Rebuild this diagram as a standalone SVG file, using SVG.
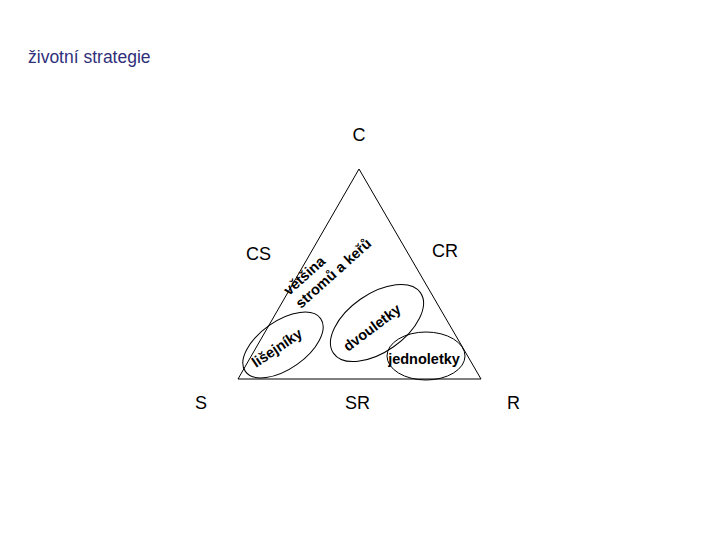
<svg xmlns="http://www.w3.org/2000/svg" width="720" height="540" viewBox="0 0 720 540">
<style>
.lbl{font-family:"Liberation Sans",Arial,sans-serif;font-size:18px;fill:#000}
.rot{font-family:"Liberation Sans",Arial,sans-serif;font-size:14.5px;font-weight:bold;fill:#000}
.title{font-family:"Liberation Sans",Arial,sans-serif;font-size:17.5px;fill:#30307a}
.shape{fill:none;stroke:#000;stroke-width:1}
</style>
<rect width="720" height="540" fill="#fff"/>
<text class="title" x="28" y="63">životní strategie</text>
<g id="triangle"><polygon class="shape" points="359,169 238,379 481,379"/></g>
<g id="corners">
<text class="lbl" x="359" y="141" text-anchor="middle">C</text>
<text class="lbl" x="246" y="260">CS</text>
<text class="lbl" x="432" y="257">CR</text>
<text class="lbl" x="195" y="409">S</text>
<text class="lbl" x="345" y="409">SR</text>
<text class="lbl" x="507" y="409">R</text>
</g>
<g id="trees">
<text class="rot" transform="translate(289,296) rotate(-42)">většina</text>
<text class="rot" transform="translate(301,309) rotate(-42)">stromů a keřů</text>
</g>
<g id="lisejniky">
<ellipse class="shape" cx="283" cy="345" rx="46" ry="24" transform="rotate(-35 283 345)"/>
<text class="rot" transform="translate(256,368) rotate(-34)">lišejníky</text>
</g>
<g id="dvouletky">
<ellipse class="shape" cx="377" cy="323" rx="53" ry="29" transform="rotate(-35 377 323)"/>
<text class="rot" transform="translate(348,352) rotate(-37)">dvouletky</text>
</g>
<g id="jednoletky">
<ellipse class="shape" cx="426" cy="356" rx="39" ry="24"/>
<text class="rot" x="424" y="364" text-anchor="middle">jednoletky</text>
</g>
</svg>
